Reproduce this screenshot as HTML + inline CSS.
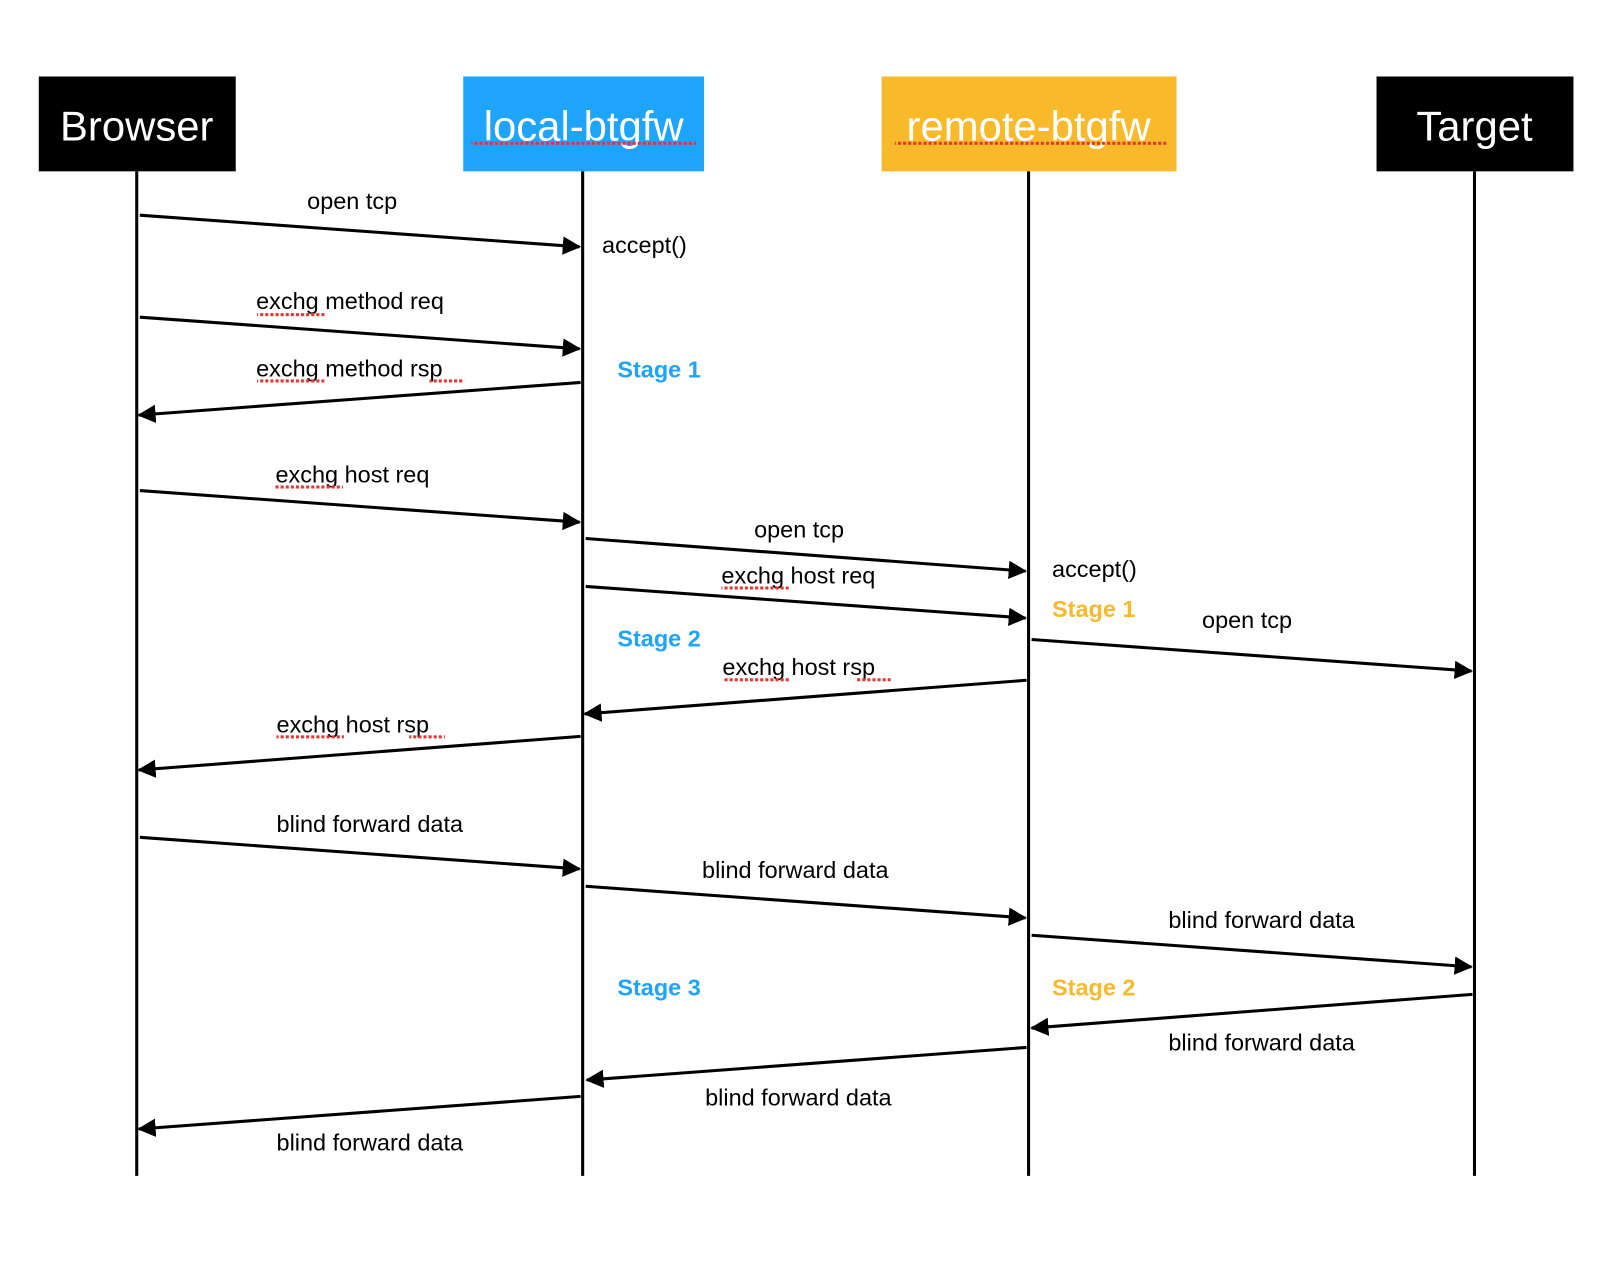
<!DOCTYPE html>
<html><head><meta charset="utf-8"><style>
html,body{margin:0;padding:0;background:#fff;}
svg{display:block;}
text{font-family:"Liberation Sans",sans-serif;}
</style></head><body>
<svg width="1600" height="1282" viewBox="0 0 1568 1257" preserveAspectRatio="none" xmlns="http://www.w3.org/2000/svg">
<defs>
<marker id="a" markerWidth="6" markerHeight="6" refX="5.5" refY="3" orient="auto" markerUnits="strokeWidth">
<path d="M0,0 L6,3 L0,6 Z" fill="#000"/></marker>
<pattern id="sq" width="5" height="3" patternUnits="userSpaceOnUse"><rect width="3" height="3" fill="#e8322f"/></pattern>
</defs>
<rect width="1568" height="1257" fill="#fff"/>
<rect x="38" y="75" width="193" height="93" fill="#000"/>
<rect x="454" y="75" width="236" height="93" fill="#1ea4fb"/>
<rect x="864" y="75" width="289" height="93" fill="#f8b92a"/>
<rect x="1349" y="75" width="193" height="93" fill="#000"/>
<g font-size="41" fill="#fff" text-anchor="middle">
<text x="134" y="138">Browser</text>
<text x="572" y="138">local-btgfw</text>
<text x="1008" y="138">remote-btgfw</text>
<text x="1445" y="138">Target</text>
</g>
<rect x="462" y="139" width="220" height="3" fill="url(#sq)"/>
<rect x="877" y="139" width="266" height="3" fill="url(#sq)"/>
<g stroke="#000" stroke-width="3">
<line x1="134" y1="168" x2="134" y2="1153"/>
<line x1="571" y1="168" x2="571" y2="1153"/>
<line x1="1008" y1="168" x2="1008" y2="1153"/>
<line x1="1445" y1="168" x2="1445" y2="1153"/>
</g>
<g stroke="#000" stroke-width="3" marker-end="url(#a)">
<line x1="137" y1="211" x2="568" y2="242"/>
<line x1="137" y1="311" x2="568" y2="342"/>
<line x1="569" y1="375" x2="136" y2="407"/>
<line x1="137" y1="481" x2="568" y2="512"/>
<line x1="574" y1="528" x2="1005" y2="560"/>
<line x1="574" y1="575" x2="1005" y2="606"/>
<line x1="1011" y1="627" x2="1442" y2="658"/>
<line x1="1006" y1="667" x2="573" y2="700"/>
<line x1="569" y1="722" x2="136" y2="755"/>
<line x1="137" y1="821" x2="568" y2="852"/>
<line x1="574" y1="869" x2="1005" y2="900"/>
<line x1="1011" y1="917" x2="1442" y2="948"/>
<line x1="1443" y1="975" x2="1011" y2="1008"/>
<line x1="1006" y1="1027" x2="575" y2="1059"/>
<line x1="569" y1="1075" x2="136" y2="1107"/>
</g>
<g font-size="23" fill="#000">
<text x="301" y="205">open tcp</text>
<text x="590" y="248">accept()</text>
<text x="251" y="303">exchg method req</text>
<text x="251" y="369">exchg method rsp</text>
<text x="270" y="473">exchg host req</text>
<text x="739" y="527">open tcp</text>
<text x="1031" y="566">accept()</text>
<text x="707" y="572">exchg host req</text>
<text x="1178" y="616">open tcp</text>
<text x="708" y="662">exchg host rsp</text>
<text x="271" y="718">exchg host rsp</text>
<text x="271" y="816">blind forward data</text>
<text x="688" y="861">blind forward data</text>
<text x="1145" y="910">blind forward data</text>
<text x="1145" y="1030">blind forward data</text>
<text x="691" y="1084">blind forward data</text>
<text x="271" y="1128">blind forward data</text>
</g>
<g fill="url(#sq)">
<rect x="252" y="307" width="66" height="3"/>
<rect x="252" y="372" width="66" height="3"/>
<rect x="421" y="372" width="34" height="3"/>
<rect x="270" y="476" width="66" height="3"/>
<rect x="707" y="575" width="66" height="3"/>
<rect x="708" y="665" width="66" height="3"/>
<rect x="838" y="665" width="35" height="3"/>
<rect x="271" y="721" width="66" height="3"/>
<rect x="401" y="721" width="35" height="3"/>
</g>
<g font-size="23" font-weight="bold">
<text x="605" y="370" fill="#1ea4fb">Stage 1</text>
<text x="605" y="634" fill="#1ea4fb">Stage 2</text>
<text x="605" y="976" fill="#1ea4fb">Stage 3</text>
<text x="1031" y="605" fill="#f8b92a">Stage 1</text>
<text x="1031" y="976" fill="#f8b92a">Stage 2</text>
</g>
</svg>
</body></html>
